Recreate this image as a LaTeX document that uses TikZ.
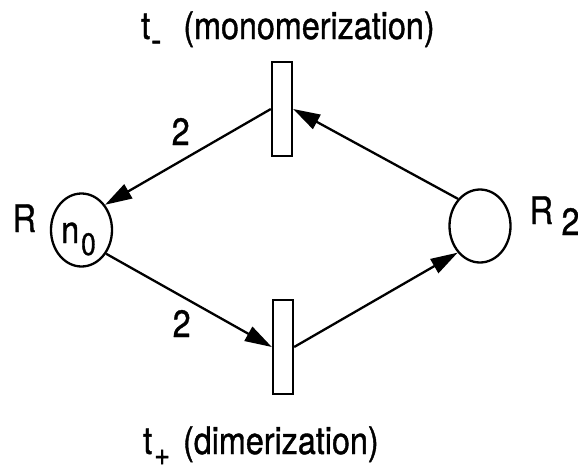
\documentclass[tikz,border=0pt]{standalone}
\usepackage{fontspec}
\setmainfont{TeX Gyre Heros}[FakeStretch=0.85,FakeBold=1]
\usetikzlibrary{arrows.meta,shapes.geometric}
\newcommand\subsz{\fontsize{32pt}{32pt}\selectfont}
\begin{document}
\begin{tikzpicture}[x=1pt,y=-1pt,
  place/.style={ellipse, draw, line width=2.3pt, minimum width=61pt, minimum height=73pt, inner sep=0pt},
  trans/.style={rectangle, draw, line width=2.3pt, minimum width=20pt, minimum height=94pt, inner sep=0pt},
  arc/.style={line width=2.3pt, -{Triangle[length=27pt,width=16pt]}},
  txt/.style={inner sep=0pt, anchor=base west, font=\fontsize{38pt}{40pt}\selectfont}]
\useasboundingbox (0,0) rectangle (578,469);
% places
\node[place] (R) at (81.5,230) {};
\node[place] (R2) at (480,226) {};
% transitions
\node[trans] (tm) at (282,109) {};
\node[trans] (tp) at (283,347) {};
% texts
\node[txt] (lR) at (12.5,232) {R};
\node[txt] (tok) at (61,243) {n\hspace{2pt}\raisebox{-12pt}{\fontsize{31pt}{31pt}\selectfont 0}};
\node[txt] (lR2) at (529.5,224) {R\hspace{8.5pt}\raisebox{-11pt}{2}};
\node[txt] (ltm) at (141,39) {t\hspace{1pt}\raisebox{-13pt}{\fontsize{36pt}{36pt}\selectfont -}\hspace{22pt}(monomerization)};
\node[txt] (ltp) at (143,454) {t\hspace{2pt}\raisebox{-11pt}{\subsz +}\hspace{13pt}(dimerization)};
\node[txt] (w1) at (171.5,145) {2};
\node[txt] (w2) at (172.5,337) {2};
% arcs
\draw[arc] (tm.west) -- (R.47);
\draw[arc] (R2.129) -- (tm.east);
\draw[arc] (R.-44) -- (tp.west);
\draw[arc] (tp.east) -- (R2.230);
\end{tikzpicture}
\end{document}
